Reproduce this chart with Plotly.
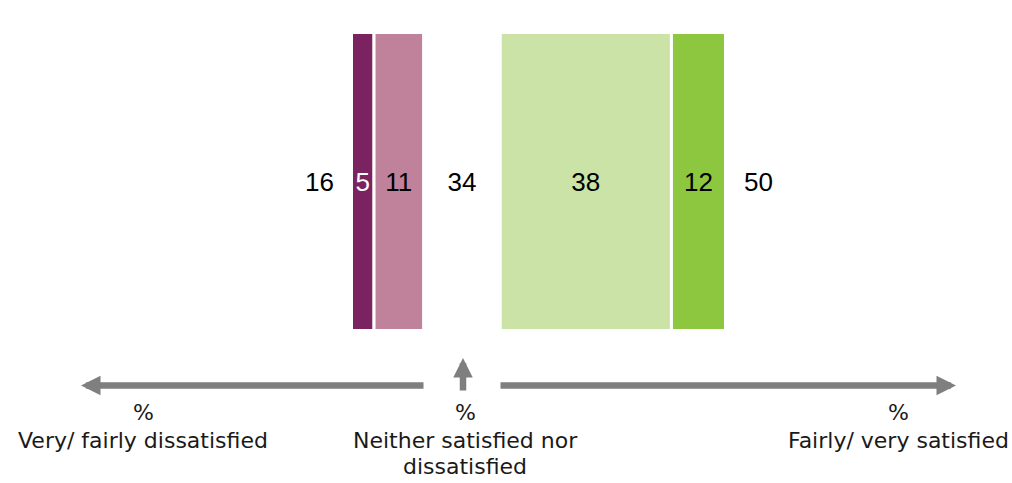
import plotly.graph_objects as go

# Satisfaction shares (%)
categories = ["Very dissatisfied", "Fairly dissatisfied", "Neither satisfied nor dissatisfied",
              "Fairly satisfied", "Very satisfied"]
values = [5, 11, 34, 38, 12]
colors = ["#7B2360", "#C0829B", "rgba(0,0,0,0)", "#CBE3A7", "#8DC63F"]
text_colors = ["#FFFFFF", "#000000", "#000000", "#000000", "#000000"]

# Caption lines under each arrow: (centre x in px, lines)
group_labels = [
    (143, ["%", "Very/ fairly dissatisfied"]),
    (465, ["%", "Neither satisfied nor", "dissatisfied"]),
    (898, ["%", "Fairly/ very satisfied"]),
]

very_dis, fairly_dis, neither, fairly_sat, very_sat = values
dissatisfied_total = very_dis + fairly_dis
satisfied_total = fairly_sat + very_sat

# The neutral share is shown as a blank gap of half its width between the two sides
widths = [very_dis, fairly_dis, neither / 2, fairly_sat, very_sat]
bases = []
acc = 0
for w in widths:
    bases.append(acc)
    acc += w
total_span = acc

num_family = "Liberation Sans, Arial, sans-serif"
num_size = 26
fig = go.Figure()
for cat, w, b, v, c, tc in zip(categories, widths, bases, values, colors, text_colors):
    fig.add_trace(go.Bar(
        y=[0], x=[w], base=[b], orientation="h", name=cat,
        marker=dict(color=c, line=dict(color="rgba(0,0,0,0)" if c.startswith("rgba") else "white", width=3)),
        text=[str(v)], textposition="inside", insidetextanchor="middle",
        textfont=dict(color=tc, size=num_size, family=num_family),
        constraintext="none",
        width=1, hoverinfo="skip", showlegend=False,
    ))

num_font = dict(size=num_size, color="#000000", family=num_family)
fig.add_annotation(x=0, y=0, xref="x", yref="y", text=str(dissatisfied_total),
                   showarrow=False, xanchor="center", xshift=-32, font=num_font)
fig.add_annotation(x=total_span, y=0, xref="x", yref="y", text=str(satisfied_total),
                   showarrow=False, xanchor="center", xshift=33, font=num_font)

# Direction arrows below the bar
arrow_color = "#7F7F7F"
arrow_y = 1 - 385.5 / 483
arrow_kw = dict(xref="paper", yref="paper", showarrow=True, arrowhead=2, arrowsize=0.6,
                arrowwidth=6.5, arrowcolor=arrow_color, text="")
fig.add_annotation(x=81 / 1012, y=arrow_y, ax=425 - 81, ay=0, **arrow_kw)
fig.add_annotation(x=956 / 1012, y=arrow_y, ax=499 - 956, ay=0, **arrow_kw)
fig.add_annotation(x=463 / 1012, y=1 - 358 / 483, ax=0, ay=392 - 358, **arrow_kw)

label_font = dict(size=22, color="#1A1A1A", family="DejaVu Sans, sans-serif")
line_ys = [412, 440, 466]
for px, lines in group_labels:
    for line, py in zip(lines, line_ys):
        fig.add_annotation(x=px / 1012, y=1 - py / 483, xref="paper", yref="paper", text=line,
                           showarrow=False, xanchor="center", yanchor="middle",
                           font=label_font)

# Axis ranges chosen so the bar sits at its place on the 1012x483 canvas
left_px, right_px = 351.5, 725.5
top_px, bottom_px = 32.5, 330.5
px_per_unit = (right_px - left_px) / total_span
px_per_band = bottom_px - top_px
fig.update_layout(
    width=1012, height=483,
    margin=dict(l=0, r=0, t=0, b=0),
    paper_bgcolor="white", plot_bgcolor="white",
    barmode="overlay",
    xaxis=dict(range=[-left_px / px_per_unit, (1012 - left_px) / px_per_unit],
               visible=False, fixedrange=True),
    yaxis=dict(range=[-0.5 - (483 - bottom_px) / px_per_band, 0.5 + top_px / px_per_band],
               visible=False, fixedrange=True),
)

fig.write_html("out.html")
